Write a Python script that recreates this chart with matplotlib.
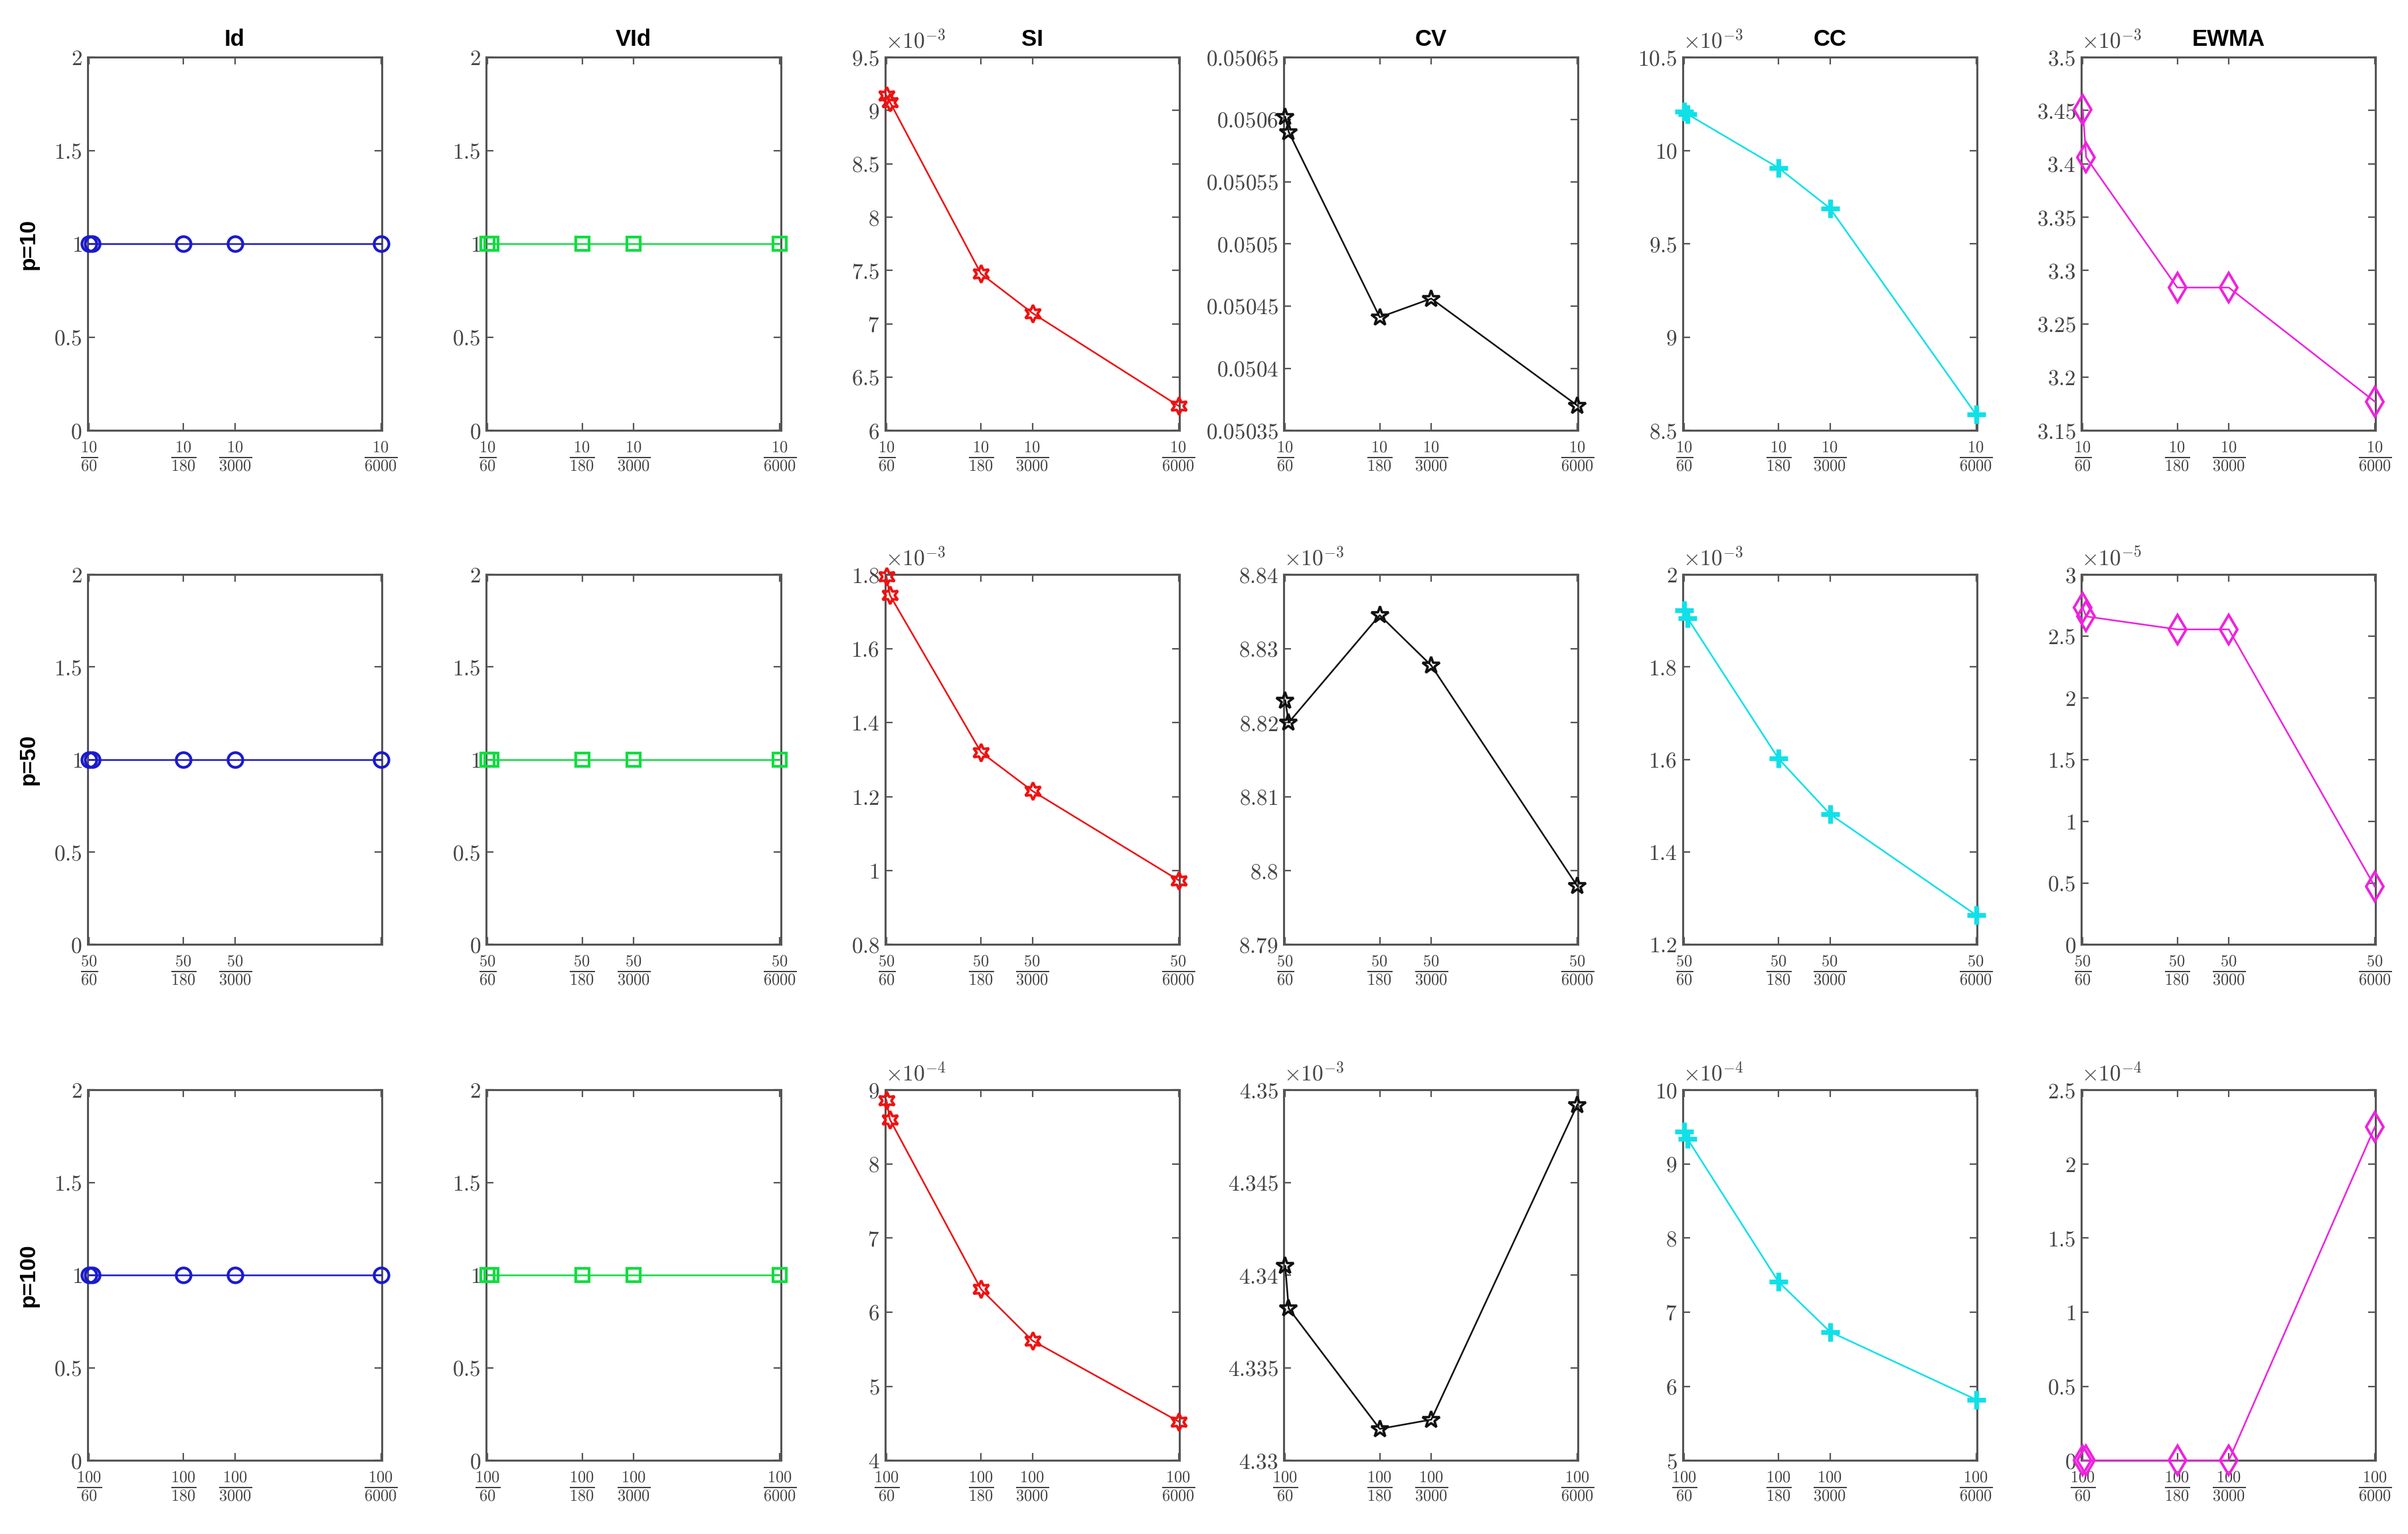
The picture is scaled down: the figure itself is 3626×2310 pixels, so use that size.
import matplotlib
matplotlib.use('Agg')
import matplotlib.pyplot as plt
import numpy as np

plt.rcParams['mathtext.fontset'] = 'cm'
plt.rcParams['font.family'] = ['Liberation Sans', 'DejaVu Sans']

# ---------------- data ----------------
methods = ['Id', 'VId', 'SI', 'CV', 'CC', 'EWMA']
p_values = [10, 50, 100]
horizons = [60, 180, 3000, 6000]
x_points = [1.0, 1.4, 12.0, 18.0, 35.0]      # five evaluated settings
x_ticks = [1.0, 12.0, 18.0, 35.0]            # ticks labelled p/horizon

id_vals = [[1, 1, 1, 1, 1],
           [1, 1, 1, 1, 1],
           [1, 1, 1, 1, 1]]
vid_vals = [[1, 1, 1, 1, 1],
            [1, 1, 1, 1, 1],
            [1, 1, 1, 1, 1]]
si_vals = [[9.14e-3, 9.08e-3, 7.47e-3, 7.10e-3, 6.23e-3],
           [1.794e-3, 1.744e-3, 1.320e-3, 1.215e-3, 0.974e-3],
           [8.86e-4, 8.60e-4, 6.31e-4, 5.615e-4, 4.525e-4]]
cv_vals = [[0.050602, 0.050590, 0.050441, 0.050456, 0.050370],
           [8.8230e-3, 8.8200e-3, 8.8345e-3, 8.8277e-3, 8.7979e-3],
           [4.3405e-3, 4.3382e-3, 4.3317e-3, 4.3322e-3, 4.3492e-3]]
cc_vals = [[10.21e-3, 10.195e-3, 9.907e-3, 9.69e-3, 8.585e-3],
           [1.923e-3, 1.906e-3, 1.602e-3, 1.482e-3, 1.264e-3],
           [9.44e-4, 9.34e-4, 7.41e-4, 6.735e-4, 5.82e-4]]
ewma_vals = [[3.451e-3, 3.406e-3, 3.284e-3, 3.284e-3, 3.177e-3],
             [2.73e-5, 2.66e-5, 2.555e-5, 2.555e-5, 0.47e-5],
             [0.0, 0.0, 0.0, 0.0, 2.25e-4]]

# y axis settings per [row][method]: (low, high, step, exponent)
y_axes = [
    [(0, 2, 0.5, 0), (0, 2, 0.5, 0), (6, 9.5, 0.5, -3), (0.05035, 0.05065, 0.00005, 0),
     (8.5, 10.5, 0.5, -3), (3.15, 3.5, 0.05, -3)],
    [(0, 2, 0.5, 0), (0, 2, 0.5, 0), (0.8, 1.8, 0.2, -3), (8.79, 8.84, 0.01, -3),
     (1.2, 2.0, 0.2, -3), (0, 3, 0.5, -5)],
    [(0, 2, 0.5, 0), (0, 2, 0.5, 0), (4, 9, 1, -4), (4.33, 4.35, 0.005, -3),
     (5, 10, 1, -4), (0, 2.5, 0.5, -4)],
]
# tick labels missing in the original (row, column, tick index)
hidden_xlabels = [(1, 0, 3)]

# ---------------- style ----------------
all_vals = [id_vals, vid_vals, si_vals, cv_vals, cc_vals, ewma_vals]
styles = [
    dict(color='#1a1acc', marker='o', ms=8, mfc='none', mew=1.5),
    dict(color='#10dd40', marker='s', ms=7, mfc='none', mew=1.5),
    dict(color='#ee1111', marker=(6, 1, 0), ms=9.5, mfc='none', mew=1.4),
    dict(color='#111111', marker='*', ms=9.5, mfc='none', mew=1.3),
    dict(color='#10e0e8', marker='+', ms=10, mew=2.6),
    dict(color='#ee22dd', marker='d', ms=11, mfc='none', mew=1.4),
]
axis_color = '#555555'
text_color = '#444444'

fig = plt.figure(figsize=(18.13, 11.55), dpi=200)

lefts = [0.0364 + i * 0.1656 for i in range(6)]
width = 0.1222
bottoms = [0.7194, 0.3842, 0.0480]
heights = [0.2433, 0.2413, 0.2415]

for r, p in enumerate(p_values):
    for c, name in enumerate(methods):
        ax = fig.add_axes([lefts[c], bottoms[r], width, heights[r]])
        lo, hi, step, ex = y_axes[r][c]
        scale = 10.0 ** ex
        yv = np.array(all_vals[c][r]) / scale
        ax.plot(x_points, yv, lw=0.9, clip_on=False, zorder=3, **styles[c])
        ax.set_xlim(0.85, 35.1)
        ax.set_ylim(lo, hi)
        yt = np.arange(lo, hi + step / 2, step)
        ax.set_yticks(yt)
        ax.set_yticklabels([r'$%s$' % f'{round(v, 6):g}' for v in yt])
        ax.set_xticks(x_ticks)
        xl = [r'$\frac{%d}{%d}$' % (p, h) for h in horizons]
        for (hr, hc, hi_) in hidden_xlabels:
            if hr == r and hc == c:
                xl[hi_] = ''
        ax.set_xticklabels(xl)
        ax.tick_params(direction='in', top=True, right=True, length=4, width=0.8,
                       color=axis_color, labelcolor=text_color, pad=3)
        ax.tick_params(axis='y', labelsize=12)
        ax.tick_params(axis='x', labelsize=12.5, pad=5)
        for s in ax.spines.values():
            s.set_color(axis_color)
            s.set_linewidth(1.1)
        if ex != 0:
            ax.text(0.0, 1.012, r'$\times10^{%d}$' % ex, transform=ax.transAxes,
                    ha='left', va='bottom', fontsize=12, color=text_color)
        if r == 0:
            ax.set_title(name, fontsize=12.5, fontweight='bold', pad=6)
        if c == 0:
            y_mid = bottoms[r] + heights[r] / 2
            fig.text(0.012, y_mid, 'p=%d' % p, rotation=90, ha='center', va='center',
                     fontsize=12, fontweight='bold')

fig.savefig('out.png', dpi=200, facecolor='white')
